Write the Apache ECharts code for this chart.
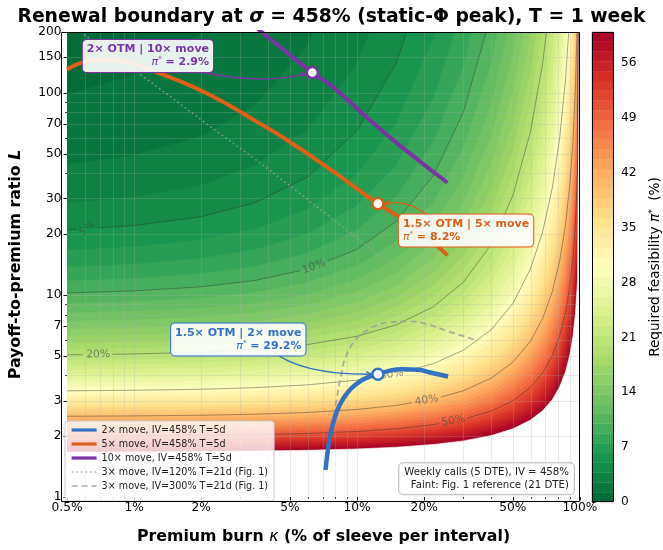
<!DOCTYPE html>
<html>
<head>
<meta charset="utf-8">
<script src="https://cdn.jsdelivr.net/npm/echarts@6.0.0/dist/echarts.min.js"></script>
<style>html,body{margin:0;padding:0;background:#fff;}#chart{width:663px;height:550px;}</style>
</head>
<body>
<div id="chart"></div>
<script>
// ================= DATA =================
// Premium burn kappa (%) columns at which the contour boundaries were read
const kappaCols = [0.5, 1, 2, 3.5, 6, 10, 15, 22, 30, 40, 50, 60, 68, 75, 81, 86, 90, 93, 95.5, 97.5, 100];
// Required feasibility pi* (%) contour levels of the filled field
const levels = [1.25, 2.5, 3.75, 5, 6.25, 7.5, 8.75, 10, 11.25, 12.5, 13.75, 15, 16.25, 17.5, 18.75, 20,
  21.25, 22.5, 23.75, 25, 26.25, 27.5, 28.75, 30, 31.25, 32.5, 33.75, 35, 36.25, 37.5, 38.75, 40,
  41.25, 42.5, 43.75, 45, 46.25, 47.5, 48.75, 50, 51.25, 52.5, 53.75, 55, 56.25, 57.5, 58.75, 60];
// Payoff-to-premium ratio L on each contour level (row), at each kappa column
const levelL = [
  [98.2, 122.2, 197.7, 449, 2196, 3000, 3000, 3000, 3000, 3000, 3000, 3000, 3000, 3000, 3000, 3000, 3000, 3000, 3000, 3000, 3000],
  [44.18, 48.99, 60.94, 87.09, 170.5, 599.9, 3000, 3000, 3000, 3000, 3000, 3000, 3000, 3000, 3000, 3000, 3000, 3000, 3000, 3000, 3000],
  [28.46, 30.43, 34.98, 43.73, 65.91, 140.4, 426.3, 2670, 3000, 3000, 3000, 3000, 3000, 3000, 3000, 3000, 3000, 3000, 3000, 3000, 3000],
  [20.98, 22.04, 24.40, 28.65, 38.34, 65.03, 140.5, 506.7, 2920, 3000, 3000, 3000, 3000, 3000, 3000, 3000, 3000, 3000, 3000, 3000, 3000],
  [16.62, 17.27, 18.70, 21.19, 26.50, 39.57, 70.65, 185.3, 699.8, 3000, 3000, 3000, 3000, 3000, 3000, 3000, 3000, 3000, 3000, 3000, 3000],
  [13.75, 14.20, 15.15, 16.77, 20.08, 27.67, 43.81, 93.82, 268.9, 1359, 3000, 3000, 3000, 3000, 3000, 3000, 3000, 3000, 3000, 3000, 3000],
  [11.73, 12.05, 12.73, 13.86, 16.11, 21.00, 30.64, 57.11, 135.2, 513.1, 2756, 3000, 3000, 3000, 3000, 3000, 3000, 3000, 3000, 3000, 3000],
  [10.23, 10.47, 10.97, 11.80, 13.42, 16.81, 23.12, 38.99, 80.27, 246.6, 1023, 3000, 3000, 3000, 3000, 3000, 3000, 3000, 3000, 3000, 3000],
  [9.067, 9.251, 9.639, 10.27, 11.49, 13.96, 18.36, 28.73, 53.24, 139.1, 473.0, 2296, 3000, 3000, 3000, 3000, 3000, 3000, 3000, 3000, 3000],
  [8.142, 8.289, 8.595, 9.093, 10.03, 11.91, 15.13, 22.33, 38.14, 87.81, 255, 1017, 3000, 3000, 3000, 3000, 3000, 3000, 3000, 3000, 3000],
  [7.388, 7.507, 7.755, 8.155, 8.904, 10.37, 12.81, 18.05, 28.89, 60.09, 153.6, 521.7, 1868, 3000, 3000, 3000, 3000, 3000, 3000, 3000, 3000],
  [6.762, 6.861, 7.065, 7.392, 7.999, 9.167, 11.08, 15.04, 22.82, 43.69, 100.6, 299.1, 936, 3000, 3000, 3000, 3000, 3000, 3000, 3000, 3000],
  [6.234, 6.316, 6.487, 6.759, 7.260, 8.212, 9.739, 12.81, 18.62, 33.28, 70.20, 186.7, 521.8, 1690, 3000, 3000, 3000, 3000, 3000, 3000, 3000],
  [5.782, 5.852, 5.996, 6.226, 6.645, 7.433, 8.677, 11.12, 15.58, 26.28, 51.5, 124.6, 316.0, 919, 3000, 3000, 3000, 3000, 3000, 3000, 3000],
  [5.391, 5.451, 5.575, 5.770, 6.125, 6.786, 7.816, 9.795, 13.30, 21.37, 39.32, 87.69, 204.6, 541.5, 1648, 3000, 3000, 3000, 3000, 3000, 3000],
  [5.050, 5.102, 5.208, 5.376, 5.680, 6.242, 7.105, 8.735, 11.55, 17.79, 31, 64.44, 139.8, 341, 945, 3000, 3000, 3000, 3000, 3000, 3000],
  [4.750, 4.795, 4.887, 5.033, 5.280, 5.777, 6.508, 7.869, 10.17, 15.10, 25.10, 49.06, 99.84, 226.7, 581.0, 1698, 3000, 3000, 3000, 3000, 3000],
  [4.483, 4.522, 4.603, 4.731, 4.959, 5.375, 6.002, 7.151, 9.054, 13.02, 20.77, 38.47, 74.0, 157.7, 376, 1015, 3000, 3000, 3000, 3000, 3000],
  [4.245, 4.279, 4.351, 4.463, 4.663, 5.025, 5.567, 6.547, 8.143, 11.39, 17.51, 30.92, 56.58, 113.9, 255.1, 640.9, 1804, 3000, 3000, 3000, 3000],
  [4.030, 4.061, 4.124, 4.223, 4.399, 4.717, 5.189, 6.033, 7.385, 10.07, 15, 25.38, 44.41, 85, 179.7, 424, 1111, 3000, 3000, 3000, 3000],
  [3.836, 3.864, 3.920, 4.008, 4.164, 4.445, 4.858, 5.590, 6.746, 9.001, 13.02, 21.20, 35.65, 65.20, 131.0, 291.2, 716.4, 1889, 3000, 3000, 3000],
  [3.660, 3.685, 3.735, 3.814, 3.953, 4.202, 4.566, 5.206, 6.203, 8.112, 11.43, 17.99, 29.19, 51.2, 98.17, 207.1, 481, 1192, 3000, 3000, 3000],
  [3.500, 3.522, 3.567, 3.638, 3.762, 3.984, 4.306, 4.868, 5.735, 7.366, 10.15, 15.48, 24.30, 41.07, 75.44, 151.8, 334.1, 782.8, 2277, 3000, 3000],
  [3.353, 3.373, 3.413, 3.477, 3.589, 3.787, 4.074, 4.571, 5.328, 6.734, 9.079, 13.47, 20.53, 33.53, 59.25, 114.1, 239.3, 532, 1455, 3000, 3000],
  [3.218, 3.236, 3.272, 3.330, 3.430, 3.609, 3.865, 4.306, 4.972, 6.191, 8.190, 11.85, 17.57, 27.82, 47.44, 87.74, 176.0, 373.4, 961.4, 3000, 3000],
  [3.093, 3.109, 3.143, 3.195, 3.286, 3.446, 3.677, 4.070, 4.659, 5.723, 7.439, 10.51, 15.21, 23.40, 38.63, 68.85, 132.5, 269.1, 657, 2180, 3000],
  [2.978, 2.992, 3.023, 3.070, 3.152, 3.298, 3.505, 3.857, 4.380, 5.314, 6.797, 9.402, 13.30, 19.93, 31.92, 55.00, 101.9, 198.8, 460.9, 1431, 3000],
  [2.870, 2.884, 2.912, 2.955, 3.030, 3.161, 3.349, 3.664, 4.131, 4.956, 6.246, 8.473, 11.73, 17.17, 26.74, 44.64, 79.86, 150.0, 332, 967, 3000],
  [2.771, 2.783, 2.808, 2.848, 2.916, 3.036, 3.205, 3.491, 3.908, 4.639, 5.768, 7.683, 10.44, 14.93, 22.67, 36.75, 63.62, 115.4, 244.6, 673.6, 3000],
  [2.678, 2.689, 2.712, 2.748, 2.811, 2.920, 3.074, 3.333, 3.707, 4.357, 5.350, 7.009, 9.353, 13.11, 19.43, 30.64, 51.46, 90.37, 183.8, 480, 3000],
  [2.591, 2.601, 2.622, 2.655, 2.712, 2.812, 2.953, 3.186, 3.524, 4.105, 4.982, 6.427, 8.435, 11.60, 16.81, 25.85, 42.19, 71.87, 140.8, 349.3, 3000],
  [2.509, 2.519, 2.538, 2.569, 2.621, 2.712, 2.840, 3.053, 3.358, 3.879, 4.657, 5.921, 7.654, 10.33, 14.67, 22.04, 35.03, 57.99, 109.6, 259, 3000],
  [2.433, 2.442, 2.460, 2.487, 2.535, 2.619, 2.736, 2.930, 3.206, 3.675, 4.367, 5.480, 6.982, 9.270, 12.91, 18.96, 29.40, 47.39, 86.68, 196.2, 3000],
  [2.361, 2.369, 2.385, 2.411, 2.455, 2.532, 2.640, 2.815, 3.067, 3.490, 4.109, 5.091, 6.400, 8.367, 11.44, 16.46, 24.93, 39.19, 69.47, 150.8, 3000],
  [2.293, 2.301, 2.316, 2.339, 2.380, 2.451, 2.549, 2.711, 2.939, 3.321, 3.876, 4.747, 5.893, 7.592, 10.21, 14.40, 21.35, 32.76, 56.39, 117.7, 3000],
  [2.229, 2.236, 2.250, 2.272, 2.309, 2.374, 2.465, 2.613, 2.821, 3.168, 3.666, 4.441, 5.449, 6.923, 9.163, 12.69, 18.42, 27.66, 46.30, 93.10, 3000],
  [2.168, 2.175, 2.188, 2.208, 2.243, 2.303, 2.386, 2.522, 2.712, 3.027, 3.476, 4.167, 5.058, 6.344, 8.271, 11.26, 16.03, 23.57, 38.43, 74.59, 3000],
  [2.111, 2.117, 2.129, 2.148, 2.180, 2.235, 2.312, 2.437, 2.611, 2.897, 3.303, 3.922, 4.711, 5.838, 7.505, 10.05, 14.05, 20.25, 32.20, 60.47, 3000],
  [2.057, 2.062, 2.073, 2.091, 2.120, 2.171, 2.242, 2.357, 2.516, 2.777, 3.145, 3.700, 4.402, 5.393, 6.841, 9.024, 12.39, 17.53, 27.23, 49.54, 3000],
  [2.005, 2.010, 2.020, 2.036, 2.064, 2.111, 2.177, 2.283, 2.429, 2.667, 3.0, 3.5, 4.125, 5.0, 6.263, 8.143, 11.0, 15.29, 23.22, 41.0, 3000],
  [1.956, 1.961, 1.970, 1.985, 2.010, 2.054, 2.114, 2.212, 2.346, 2.564, 2.867, 3.318, 3.877, 4.651, 5.757, 7.383, 9.822, 13.42, 19.96, 34.24, 3000],
  [1.909, 1.913, 1.922, 1.936, 1.960, 2.000, 2.056, 2.146, 2.270, 2.469, 2.745, 3.151, 3.652, 4.340, 5.313, 6.725, 8.813, 11.85, 17.27, 28.85, 3000],
  [1.864, 1.869, 1.877, 1.890, 1.911, 1.949, 2.001, 2.083, 2.197, 2.380, 2.631, 3.000, 3.449, 4.062, 4.919, 6.150, 7.948, 10.52, 15.05, 24.49, 3000],
  [1.822, 1.826, 1.833, 1.845, 1.866, 1.900, 1.948, 2.025, 2.130, 2.297, 2.526, 2.861, 3.265, 3.811, 4.570, 5.646, 7.199, 9.397, 13.19, 20.95, 3000],
  [1.781, 1.785, 1.792, 1.803, 1.822, 1.854, 1.898, 1.969, 2.066, 2.220, 2.429, 2.732, 3.097, 3.586, 4.258, 5.203, 6.550, 8.432, 11.63, 18.05, 3000],
  [1.742, 1.746, 1.752, 1.762, 1.780, 1.810, 1.851, 1.916, 2.006, 2.147, 2.338, 2.614, 2.943, 3.382, 3.979, 4.810, 5.981, 7.601, 10.32, 15.65, 3000],
  [1.705, 1.708, 1.714, 1.724, 1.740, 1.768, 1.806, 1.866, 1.949, 2.079, 2.254, 2.505, 2.802, 3.196, 3.728, 4.461, 5.484, 6.881, 9.191, 13.65, 3000],
  [1.669, 1.672, 1.678, 1.687, 1.702, 1.728, 1.763, 1.819, 1.895, 2.014, 2.175, 2.403, 2.673, 3.026, 3.501, 4.150, 5.046, 6.256, 8.230, 11.97, 3000]
];

// Drawn (labelled) contour lines
const contourLevels = [5, 10, 20, 30, 40, 50];
const contourLabelText = ['5%', '10%', '20%', '30%', '40%', '50%'];
const contourLabelK = [0.618, 6.4, 0.69, 14.3, 20.5, 27];
const contourLabelL = [21.2, 13.8, 5.07, 4.04, 3.01, 2.38];

// Option curves (kappa %, L)
const curve2xK = [7.22, 7.53, 7.84, 8.34, 9.07, 10.05, 11.13, 12.41, 13.89, 15.91, 18.87, 21.25, 25.6];
const curve2xL = [1.36, 1.95, 2.35, 2.84, 3.29, 3.66, 3.90, 4.04, 4.21, 4.29, 4.26, 4.13, 3.95];
const curve5xK = [0.5, 0.575, 0.66, 0.78, 0.93, 1.30, 1.83, 2.57, 3.62, 4.83, 7.78, 12.41, 18.2, 25.45];
const curve5xL = [130.5, 140.8, 145.1, 145.1, 142.4, 124.8, 107.4, 88.9, 71.0, 58.6, 41.0, 28.3, 21.6, 15.7];
const curve10xK = [3.45, 4.83, 6.3, 7.78, 10.94, 15.38, 25.45];
const curve10xL = [215, 158.8, 126, 107, 76.3, 55.4, 35.9];
const ref120K = [0.53, 1.098, 2.40, 3.43, 5.35, 8.33, 13.65];
const ref120L = [212, 120.2, 63.4, 47.6, 32.7, 22.4, 14.6];
const ref300K = [7.57, 8.05, 8.47, 8.92, 9.88, 10.94, 11.92, 13.89, 17.0, 20.9, 25.6, 33.6];
const ref300L = [2.02, 2.94, 3.98, 4.98, 6.02, 6.61, 6.99, 7.31, 7.40, 7.13, 6.61, 6.02];

const seriesNames = ['2× move, IV=458% T=5d', '5× move, IV=458% T=5d', '10× move, IV=458% T=5d',
  '3× move, IV=120% T=21d (Fig. 1)', '3× move, IV=300% T=21d (Fig. 1)'];

// Highlighted strikes
const markerK = [6.3, 12.4, 12.4];
const markerL = [126, 28.3, 4.05];
const markerTitle = ['2× OTM | 10× move', '1.5× OTM | 5× move', '1.5× OTM | 2× move'];
const markerPi = ['2.9%', '8.2%', '29.2%'];

// Tick labels
const xTickVals = [0.5, 1, 2, 5, 10, 20, 50, 100];
const xTickLabels = ['0.5%', '1%', '2%', '5%', '10%', '20%', '50%', '100%'];
const xMinorVals = [0.6, 0.7, 0.8, 0.9, 3, 4, 6, 7, 8, 9, 30, 40, 60, 70, 80, 90];
const yTickVals = [1, 2, 3, 5, 7, 10, 20, 30, 50, 70, 100, 150, 200];
const yTickLabels = ['1', '2', '3', '5', '7', '10', '20', '30', '50', '70', '100', '150', '200'];
const yMinorVals = [4, 6, 8, 9, 40, 60, 80, 90];

// ================= STYLE / LAYOUT =================
const FONT = 'DejaVu Sans';
const C_BLUE = '#3272c2', C_ORANGE = '#dd5f18', C_PURPLE = '#7b35a3';
const markerColors = [C_PURPLE, C_ORANGE, C_BLUE];
// annotation layout in pixels relative to the marker (tx,ty = outer corner of the box)
const annotLayout = [
  {tx: -99.3, ty: -32.6, align: 'right', p0: [-112, -0.8], c: [-50, 12.7], p1: [-6.5, 1]},
  {tx: 21, ty: 11, align: 'left', p0: [54.3, 16.3], c: [32.3, -5.7], p1: [6.3, 0.3]},
  {tx: -72.4, ty: -50.8, align: 'right', p0: [-105.7, -23.5], c: [-77.7, 0.5], p1: [-6.2, 0]}
];
const contourLabelRot = [40, 20, 1, 8, 9, 10];
const contourLabelGap = [10, 14, 14, 14, 14, 14];

// RdYlGn reversed colour map, 0..60 %
const cmapStops = [[0,104,55],[26,152,80],[102,189,99],[166,217,106],[217,239,139],[255,255,191],
  [254,224,139],[253,174,97],[244,109,67],[215,48,39],[165,0,38]];
function cmap(v) {
  const t = Math.max(0, Math.min(1, v / 60)) * 10;
  const i = Math.min(9, Math.floor(t)); const f = t - i;
  const a = cmapStops[i], b = cmapStops[i + 1];
  return 'rgb(' + a.map((c, k) => Math.round(c + (b[k] - c) * f)).join(',') + ')';
}
const bandEdges = [0].concat(levels);
function zip(a, b) { return a.map((v, i) => [v, b[i]]); }

// ================= SERIES =================
const fillSeries = {
  type: 'custom', name: 'field', xAxisIndex: 0, yAxisIndex: 0, clip: true, silent: true, z: 1,
  data: bandEdges.map(() => [1, 10]),
  renderItem: function (params, api) {
    const j = params.dataIndex;
    const cs = params.coordSys;
    const fill = j === levels.length ? '#ffffff' : cmap((bandEdges[j] + bandEdges[j + 1]) / 2);
    if (j === 0) return {type: 'rect', shape: {x: cs.x, y: cs.y, width: cs.width, height: cs.height}, style: {fill: fill}};
    const row = levelL[j - 1];
    const pts = [api.coord([kappaCols[0], 1])];
    for (let i = 0; i < kappaCols.length; i++) pts.push(api.coord([kappaCols[i], row[i]]));
    pts.push(api.coord([kappaCols[kappaCols.length - 1], 1]));
    return {type: 'polygon', shape: {points: pts}, style: {fill: fill, stroke: fill, lineWidth: 0.6}};
  }
};

function tickSeries(isX) {
  const major = isX ? xTickVals : yTickVals;
  const minor = isX ? xMinorVals : yMinorVals;
  const labels = isX ? xTickLabels : yTickLabels;
  const all = major.concat(minor);
  return {
    type: 'custom', xAxisIndex: 0, yAxisIndex: 0, silent: true, z: 2, clip: false,
    data: all.map(v => isX ? [v, 1] : [0.5, v]),
    renderItem: function (params, api) {
      const i = params.dataIndex; const isMajor = i < major.length; const v = all[i];
      const cs = params.coordSys; const ch = [];
      const gridCol = 'rgba(176,176,176,0.3)';
      if (isX) {
        const p = api.coord([v, 1]); const x = Math.round(p[0]) + 0.5; const b = cs.y + cs.height;
        if (v > 0.5 && v < 100) ch.push({type: 'line', shape: {x1: x, y1: cs.y, x2: x, y2: b}, style: {stroke: gridCol, lineWidth: 0.8}});
        ch.push({type: 'line', shape: {x1: x, y1: b, x2: x, y2: b + (isMajor ? 3.5 : 2)}, style: {stroke: '#000', lineWidth: isMajor ? 0.9 : 0.7}});
        if (isMajor) ch.push({type: 'text', x: p[0], y: b + 5, style: {text: labels[i], align: 'center', verticalAlign: 'top', fontFamily: FONT, fontSize: 12.2, fill: '#000'}});
      } else {
        const p = api.coord([0.5, v]); const y = Math.round(p[1]) + 0.5; const l = cs.x;
        if (v > 1 && v < 200) ch.push({type: 'line', shape: {x1: l, y1: y, x2: l + cs.width, y2: y}, style: {stroke: gridCol, lineWidth: 0.8}});
        ch.push({type: 'line', shape: {x1: l - (isMajor ? 3.5 : 2), y1: y, x2: l, y2: y}, style: {stroke: '#000', lineWidth: isMajor ? 0.9 : 0.7}});
        if (isMajor) ch.push({type: 'text', x: l - 5.5, y: p[1], style: {text: labels[i], align: 'right', verticalAlign: 'middle', fontFamily: FONT, fontSize: 12.2, fill: '#000'}});
      }
      return {type: 'group', children: ch};
    }
  };
}

const contourSeries = {
  type: 'custom', xAxisIndex: 0, yAxisIndex: 0, clip: true, silent: true, z: 3,
  data: contourLevels.map(() => [1, 10]),
  renderItem: function (params, api) {
    const k = params.dataIndex;
    const row = levelL[levels.indexOf(contourLevels[k])];
    const pts = kappaCols.map((c, i) => api.coord([c, row[i]]));
    const lab = api.coord([contourLabelK[k], contourLabelL[k]]);
    const r = contourLabelGap[k];
    const segs = []; let cur = [];
    for (let i = 0; i < pts.length - 1; i++) {
      const a = pts[i], b = pts[i + 1];
      const n = Math.max(1, Math.ceil(Math.hypot(b[0] - a[0], b[1] - a[1]) / 2));
      for (let s = 0; s <= n; s++) {
        if (s === n && i < pts.length - 2) continue;
        const t = s / n; const p = [a[0] + (b[0] - a[0]) * t, a[1] + (b[1] - a[1]) * t];
        if (Math.hypot(p[0] - lab[0], p[1] - lab[1]) < r) { if (cur.length > 1) segs.push(cur); cur = []; }
        else cur.push(p);
      }
    }
    if (cur.length > 1) segs.push(cur);
    return {type: 'group', children: segs.map(s => ({type: 'polyline', shape: {points: s}, style: {stroke: 'rgba(45,45,45,0.55)', lineWidth: 0.8, fill: null}}))};
  }
};

const contourLabelSeries = {
  type: 'custom', xAxisIndex: 0, yAxisIndex: 0, clip: true, silent: true, z: 3,
  data: contourLabelK.map((k, i) => [k, contourLabelL[i]]),
  renderItem: function (params, api) {
    const i = params.dataIndex;
    const p = api.coord([contourLabelK[i], contourLabelL[i]]);
    return {type: 'text', x: p[0], y: p[1], rotation: contourLabelRot[i] * Math.PI / 180,
      style: {text: contourLabelText[i], align: 'center', verticalAlign: 'middle', fontFamily: FONT, fontSize: 10.8, fill: 'rgba(70,70,70,0.6)'}};
  }
};

function curve(name, K, L, color, width, type, z) {
  return {type: 'line', name: name, xAxisIndex: 0, yAxisIndex: 0, data: zip(K, L), smooth: true, symbol: 'none',
    clip: true, z: z, silent: true, lineStyle: {color: color, width: width, type: type || 'solid', cap: 'butt'}, itemStyle: {color: color}};
}

const markerSeries = {
  type: 'scatter', xAxisIndex: 0, yAxisIndex: 0, z: 6, silent: true, symbol: 'circle', symbolSize: 11,
  data: markerK.map((k, i) => ({value: [k, markerL[i]], itemStyle: {color: '#ffffff', opacity: 1, borderColor: markerColors[i], borderWidth: 2.4}}))
};

const annotSeries = {
  type: 'custom', xAxisIndex: 0, yAxisIndex: 0, clip: false, silent: true, z: 7,
  data: markerK.map((k, i) => [k, markerL[i]]),
  renderItem: function (params, api) {
    const i = params.dataIndex; const lay = annotLayout[i]; const col = markerColors[i];
    const p = api.coord([markerK[i], markerL[i]]);
    const P0 = [p[0] + lay.p0[0], p[1] + lay.p0[1]], C = [p[0] + lay.c[0], p[1] + lay.c[1]], P1 = [p[0] + lay.p1[0], p[1] + lay.p1[1]];
    const dx = P1[0] - C[0], dy = P1[1] - C[1], d = Math.hypot(dx, dy) || 1; const ux = dx / d, uy = dy / d;
    const ah = 6, ang = 0.45;
    const h1 = [P1[0] - ah * (ux * Math.cos(ang) - uy * Math.sin(ang)), P1[1] - ah * (uy * Math.cos(ang) + ux * Math.sin(ang))];
    const h2 = [P1[0] - ah * (ux * Math.cos(-ang) - uy * Math.sin(-ang)), P1[1] - ah * (uy * Math.cos(-ang) + ux * Math.sin(-ang))];
    const tok = {fontFamily: FONT, fontSize: 11, lineHeight: 13, fill: col};
    return {type: 'group', children: [
      {type: 'bezierCurve', shape: {x1: P0[0], y1: P0[1], x2: P1[0], y2: P1[1], cpx1: C[0], cpy1: C[1]}, style: {stroke: col, lineWidth: 1.3, fill: null}},
      {type: 'polyline', shape: {points: [h1, P1, h2]}, style: {stroke: col, lineWidth: 1.3, fill: null}},
      {type: 'text', x: p[0] + lay.tx, y: p[1] + lay.ty, style: {
        text: '{t|' + markerTitle[i] + '}\n{p|π}{s|*}{t| = ' + markerPi[i] + '}',
        align: lay.align, verticalAlign: 'top',
        backgroundColor: 'rgba(255,255,255,0.9)', borderColor: col, borderWidth: 1, borderRadius: 4, padding: [3, 4, 3, 4],
        rich: {
          t: Object.assign({fontWeight: 'bold'}, tok),
          p: Object.assign({fontStyle: 'italic'}, tok),
          s: Object.assign({}, tok, {fontSize: 7, verticalAlign: 'top'})
        }
      }}
    ]};
  }
};

const colorbarSeries = {
  type: 'custom', xAxisIndex: 1, yAxisIndex: 1, silent: true, z: 1, clip: false,
  data: bandEdges.map(v => [0.5, v]),
  renderItem: function (params, api) {
    const j = params.dataIndex; const lo = bandEdges[j];
    if (lo >= 60) return null;
    const hi = bandEdges[j + 1]; const col = cmap((lo + hi) / 2);
    const a = api.coord([0, lo]), b = api.coord([1, hi]);
    return {type: 'rect', shape: {x: a[0], y: b[1], width: b[0] - a[0], height: a[1] - b[1]}, style: {fill: col, stroke: col, lineWidth: 0.4}};
  }
};

const legendLineWidths = [3.2, 3.2, 3.2, 1.5, 1.6];

const option = {
  animation: false,
  backgroundColor: '#ffffff',
  textStyle: {fontFamily: FONT},
  title: {
    text: '{b|Renewal boundary at }{i|σ}{b| = 458% (static-Φ peak), T = 1 week}',
    left: 'center', top: 3,
    textStyle: {rich: {
      b: {fontFamily: FONT, fontWeight: 'bold', fontSize: 18.8, color: '#000'},
      i: {fontFamily: FONT, fontStyle: 'italic', fontSize: 18.8, color: '#000'}
    }}
  },
  grid: [
    {left: 61, top: 32, width: 519, height: 470},
    {left: 592, top: 32, width: 22, height: 470}
  ],
  xAxis: [
    {type: 'log', logBase: 10, min: 0.5, max: 100, gridIndex: 0,
      name: '{b|Premium burn }{i|κ}{b| (% of sleeve per interval)}', nameLocation: 'middle', nameGap: 32,
      nameTextStyle: {rich: {
        b: {fontFamily: FONT, fontWeight: 'bold', fontSize: 15.8, color: '#000'},
        i: {fontFamily: FONT, fontStyle: 'italic', fontSize: 15.8, color: '#000'}}},
      axisLine: {show: false}, axisTick: {show: false}, axisLabel: {show: false}, splitLine: {show: false}},
    {type: 'value', min: 0, max: 1, gridIndex: 1, show: false}
  ],
  yAxis: [
    {type: 'log', logBase: 10, min: 1, max: 200, gridIndex: 0,
      name: '{b|Payoff-to-premium ratio }{i|L}', nameLocation: 'middle', nameRotate: 90, nameGap: 43,
      nameTextStyle: {rich: {
        b: {fontFamily: FONT, fontWeight: 'bold', fontSize: 15.8, color: '#000'},
        i: {fontFamily: FONT, fontStyle: 'italic', fontWeight: 'bold', fontSize: 15.8, color: '#000'}}},
      axisLine: {show: false}, axisTick: {show: false}, axisLabel: {show: false}, splitLine: {show: false}},
    {type: 'value', min: 0, max: 60, interval: 7, gridIndex: 1, position: 'right',
      axisLine: {show: false}, axisTick: {show: true, length: 3.5, lineStyle: {color: '#000', width: 0.9}},
      axisLabel: {fontFamily: FONT, fontSize: 12.2, color: '#000', margin: 8, showMaxLabel: false},
      splitLine: {show: false},
      name: '{n|Required feasibility }{i|π}{s|*}{n|  (%)}', nameLocation: 'middle', nameRotate: 90, nameGap: 35,
      nameTextStyle: {rich: {
        n: {fontFamily: FONT, fontSize: 13.6, color: '#000'},
        i: {fontFamily: FONT, fontStyle: 'italic', fontSize: 13.6, color: '#000'},
        s: {fontFamily: FONT, fontSize: 9, color: '#000', verticalAlign: 'top'}}}}
  ],
  legend: {
    orient: 'vertical', left: 65, top: 421, itemWidth: 25, itemHeight: 12, itemGap: 4,
    padding: [4, 6, 10, 5], backgroundColor: 'rgba(255,255,255,0.8)', borderColor: '#cccccc', borderWidth: 1, borderRadius: 3,
    textStyle: {fontFamily: FONT, fontSize: 9.6, color: '#222'},
    itemStyle: {opacity: 0},
    data: seriesNames.map((n, i) => ({name: n, lineStyle: {width: legendLineWidths[i]}})),
    selectedMode: false
  },
  graphic: [
    {type: 'rect', z: 100, silent: true, shape: {x: 61.5, y: 32.5, width: 518, height: 469}, style: {fill: null, stroke: '#000', lineWidth: 1}},
    {type: 'rect', z: 100, silent: true, shape: {x: 592.5, y: 32.5, width: 21, height: 469}, style: {fill: null, stroke: '#000', lineWidth: 1}},
    {type: 'text', z: 100, silent: true, x: 574, y: 463.3, style: {
      text: 'Weekly calls (5 DTE), IV = 458%\nFaint: Fig. 1 reference (21 DTE)', align: 'right', verticalAlign: 'top',
      fontFamily: FONT, fontSize: 10.2, lineHeight: 12.5, fill: '#222',
      backgroundColor: 'rgba(255,255,255,0.85)', borderColor: '#bbbbbb', borderWidth: 1, borderRadius: 4, padding: [3, 5, 3, 5]}}
  ],
  series: [
    fillSeries,
    tickSeries(true),
    tickSeries(false),
    contourSeries,
    contourLabelSeries,
    curve(seriesNames[0], curve2xK, curve2xL, C_BLUE, 4.5, 'solid', 5),
    curve(seriesNames[1], curve5xK, curve5xL, C_ORANGE, 4, 'solid', 5),
    curve(seriesNames[2], curve10xK, curve10xL, C_PURPLE, 4, 'solid', 5),
    curve(seriesNames[3], ref120K, ref120L, 'rgba(160,160,160,0.8)', 1.6, [1.6, 3], 4),
    curve(seriesNames[4], ref300K, ref300L, 'rgba(160,160,160,0.85)', 1.8, [6, 4], 4),
    markerSeries,
    annotSeries,
    colorbarSeries
  ]
};

const chart = echarts.init(document.getElementById('chart'), null, {renderer: 'canvas'});
chart.setOption(option);
</script>
</body>
</html>
